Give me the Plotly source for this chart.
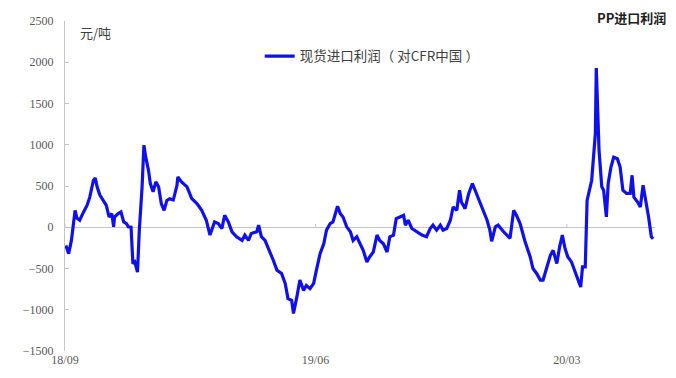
import plotly.graph_objects as go

# PP spot import margin vs. CFR China (yuan/tonne)
dates = [
    "2018-09-02", "2018-09-05", "2018-09-08", "2018-09-12", "2018-09-14", "2018-09-17",
    "2018-09-21", "2018-09-25", "2018-09-28", "2018-10-02", "2018-10-04", "2018-10-06",
    "2018-10-09", "2018-10-13", "2018-10-16", "2018-10-19", "2018-10-22", "2018-10-24",
    "2018-10-25", "2018-10-29", "2018-11-01", "2018-11-04", "2018-11-07", "2018-11-09",
    "2018-11-12", "2018-11-14", "2018-11-16", "2018-11-19", "2018-11-21", "2018-11-24",
    "2018-11-26", "2018-11-28", "2018-12-01", "2018-12-03", "2018-12-06", "2018-12-09",
    "2018-12-12", "2018-12-15", "2018-12-18", "2018-12-21", "2018-12-24", "2018-12-28",
    "2019-01-01", "2019-01-02", "2019-01-06", "2019-01-12", "2019-01-17", "2019-01-23",
    "2019-01-28", "2019-02-02", "2019-02-06", "2019-02-11", "2019-02-15", "2019-02-19",
    "2019-02-22", "2019-02-26", "2019-03-02", "2019-03-07", "2019-03-13", "2019-03-16",
    "2019-03-20", "2019-03-23", "2019-03-29", "2019-03-31", "2019-04-03", "2019-04-07",
    "2019-04-11", "2019-04-16", "2019-04-20", "2019-04-25", "2019-04-29", "2019-05-02",
    "2019-05-06", "2019-05-08", "2019-05-12", "2019-05-15", "2019-05-19", "2019-05-22",
    "2019-05-26", "2019-05-30", "2019-06-02", "2019-06-06", "2019-06-10", "2019-06-13",
    "2019-06-17", "2019-06-20", "2019-06-25", "2019-06-28", "2019-07-01", "2019-07-05",
    "2019-07-09", "2019-07-12", "2019-07-16", "2019-07-19", "2019-07-23", "2019-07-27",
    "2019-07-30", "2019-08-03", "2019-08-07", "2019-08-10", "2019-08-14", "2019-08-18",
    "2019-08-21", "2019-08-25", "2019-08-28", "2019-09-01", "2019-09-05", "2019-09-07",
    "2019-09-10", "2019-09-14", "2019-09-19", "2019-09-25", "2019-09-30", "2019-10-04",
    "2019-10-07", "2019-10-11", "2019-10-15", "2019-10-18", "2019-10-22", "2019-10-26",
    "2019-10-29", "2019-11-02", "2019-11-05", "2019-11-07", "2019-11-11", "2019-11-15",
    "2019-11-19", "2019-11-24", "2019-11-29", "2019-12-05", "2019-12-08", "2019-12-10",
    "2019-12-14", "2019-12-17", "2019-12-23", "2019-12-30", "2020-01-03", "2020-01-06",
    "2020-01-10", "2020-01-15", "2020-01-21", "2020-01-24", "2020-01-28", "2020-02-01",
    "2020-02-04", "2020-02-08", "2020-02-12", "2020-02-15", "2020-02-19", "2020-02-22",
    "2020-02-25", "2020-02-28", "2020-03-02", "2020-03-06", "2020-03-10", "2020-03-13",
    "2020-03-16", "2020-03-18", "2020-03-21", "2020-03-23", "2020-03-28", "2020-04-01",
    "2020-04-02", "2020-04-05", "2020-04-08", "2020-04-10", "2020-04-13", "2020-04-15",
    "2020-04-18", "2020-04-21", "2020-04-25", "2020-04-28", "2020-05-01", "2020-05-05",
    "2020-05-09", "2020-05-11", "2020-05-13", "2020-05-17", "2020-05-20", "2020-05-23",
    "2020-05-26", "2020-05-29", "2020-06-01", "2020-06-03",
]

profit = [
    -220, -320, -160, 205, 110, 85,
    180, 265, 365, 570, 595, 490,
    390, 325, 265, 125, 165, 5,
    125, 165, 185, 65, 45, 5,
    0, -440, -420, -545, -35, 490,
    995, 850, 690, 530, 430, 550,
    490, 285, 205, 325, 345, 330,
    505, 610, 550, 490, 350, 285,
    205, 85, -95, 65, 45, -15,
    145, 65, -55, -115, -160, -95,
    -160, -75, -55, 25, -115, -160,
    -260, -400, -520, -560, -680, -865,
    -885, -1045, -825, -640, -765, -705,
    -745, -680, -520, -320, -200, -35,
    45, 65, 255, 165, 125, 5,
    -55, -160, -115, -180, -280, -420,
    -360, -300, -95, -160, -200, -300,
    -115, -95, 105, 125, 145, 25,
    85, -15, -55, -95, -115, -15,
    25, -35, 25, -35, -15, 85,
    245, 205, 450, 305, 225, 410,
    530, 390, 245, 85, -35, -170,
    5, 25, -55, -135, 205, 145,
    45, -160, -360, -500, -560, -640,
    -640, -480, -340, -280, -440, -240,
    -95, -260, -360, -420, -540, -640,
    -725, -480, -480, 325, 570, 1135,
    1930, 935, 490, 450, 125, 530,
    730, 850, 830, 730, 450, 410,
    410, 630, 365, 305, 245, 510,
    325, 125, -115, -140,
]

tick_dates = ["2018-09-01", "2019-06-01", "2020-03-01"]
tick_labels = ["18/09", "19/06", "20/03"]
y_ticks = [-1500, -1000, -500, 0, 500, 1000, 1500, 2000, 2500]

series_name = "现货进口利润（ 对CFR中国 ）"
title_text = "PP进口利润"
unit_text = "元/吨"

CJK = "Noto Sans CJK SC"
NUM = "Liberation Serif, DejaVu Serif, serif"
AXIS_GREY = "#c4c4c4"

fig = go.Figure()
fig.add_trace(go.Scatter(
    x=dates, y=profit, mode="lines", name=series_name,
    line=dict(color="#1010ee", width=3.2),
))

# small tick marks where the category ticks cross the zero line
for d in tick_dates:
    fig.add_shape(type="line", xref="x", yref="y", x0=d, x1=d, y0=0, y1=40,
                  line=dict(color=AXIS_GREY, width=1))

fig.update_layout(
    width=676, height=378,
    margin=dict(l=65, r=21, t=21, b=27),
    paper_bgcolor="white", plot_bgcolor="white",
    showlegend=True,
    legend=dict(
        x=0.33, y=0.94, xanchor="left", yanchor="top",
        bgcolor="rgba(0,0,0,0)",
        font=dict(family=CJK, size=13.5, color="#404040"),
    ),
    xaxis=dict(
        type="date",
        range=["2018-09-01", "2020-06-05"],
        tickvals=tick_dates, ticktext=tick_labels,
        showgrid=False, zeroline=False, showline=False, ticks="",
        tickfont=dict(family=NUM, size=12, color="#595959"),
    ),
    yaxis=dict(
        range=[-1500, 2500],
        tickvals=y_ticks,
        showgrid=False,
        zeroline=True, zerolinecolor=AXIS_GREY, zerolinewidth=1,
        showline=True, linecolor=AXIS_GREY, linewidth=1,
        ticks="inside", ticklen=4, tickcolor=AXIS_GREY,
        ticklabelstandoff=8,
        tickfont=dict(family=NUM, size=12, color="#595959"),
    ),
    annotations=[
        dict(text=unit_text, xref="paper", yref="paper", x=0.022, y=1.0,
             xanchor="left", yanchor="top", showarrow=False,
             font=dict(family=CJK, size=13, color="#404040")),
        dict(text="<b>" + title_text + "</b>", xref="paper", yref="paper",
             x=1.022, y=1.01, xanchor="right", yanchor="middle", showarrow=False,
             font=dict(family=CJK, size=13, color="#202020")),
    ],
)

fig.write_html("out.html")
